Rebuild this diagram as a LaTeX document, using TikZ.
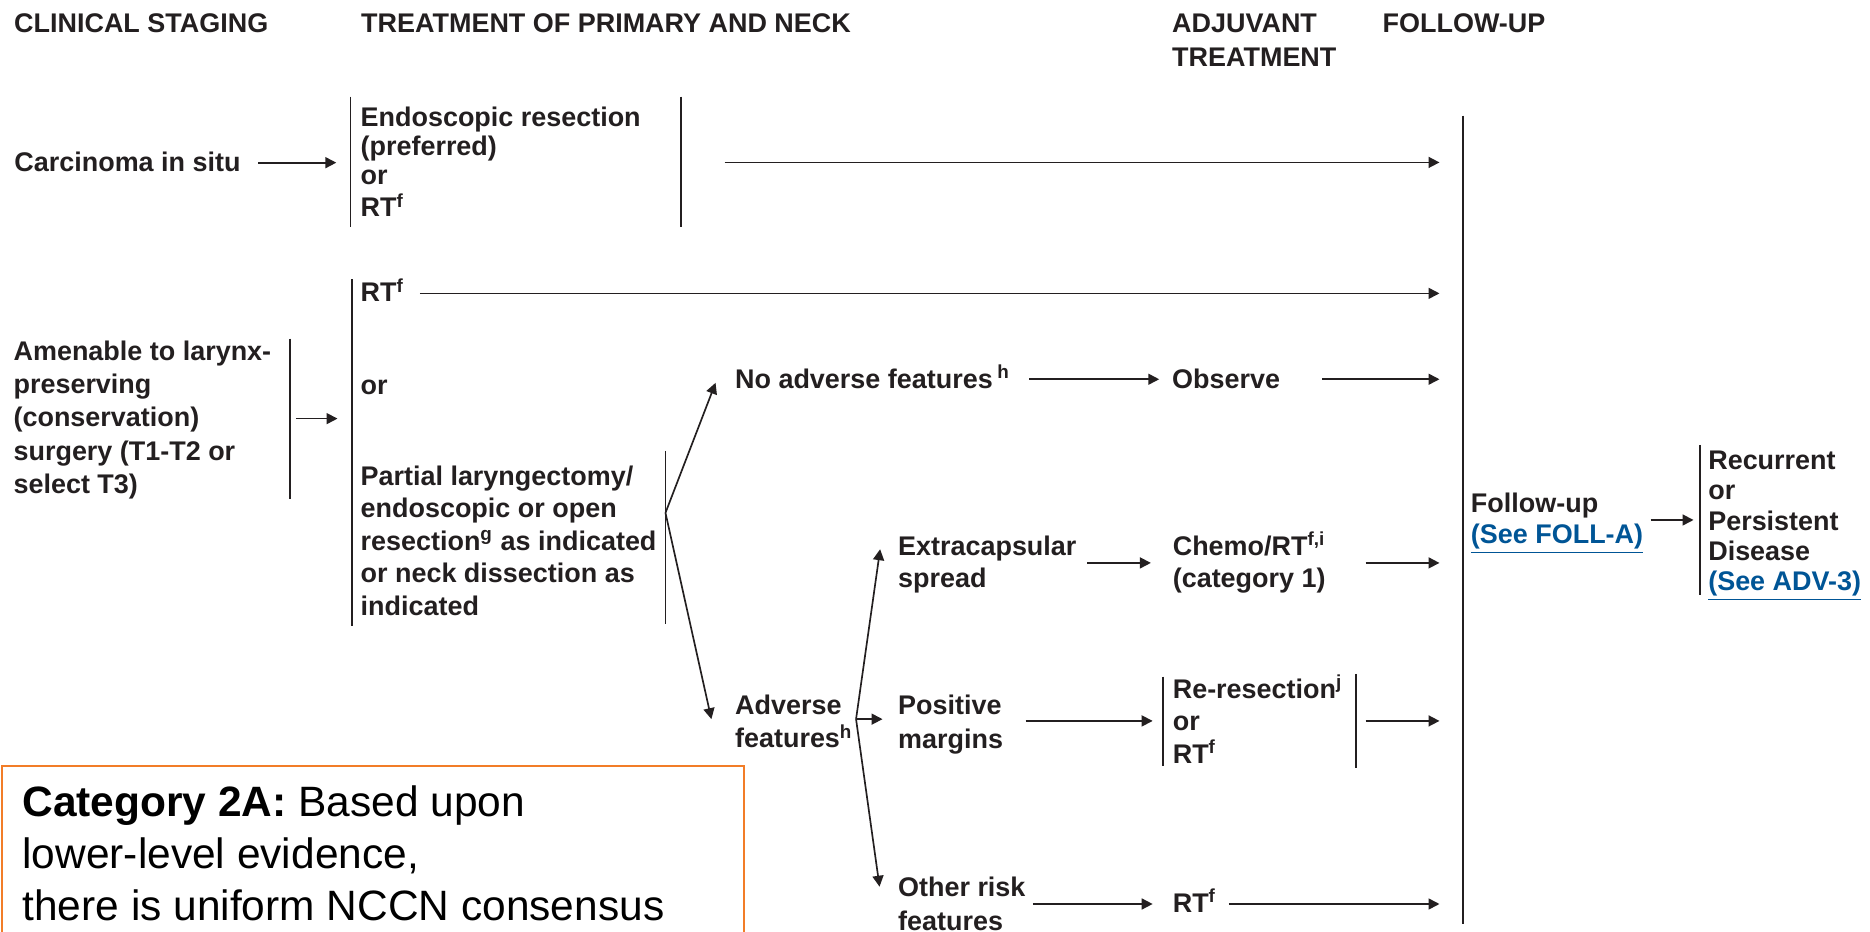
\documentclass[tikz,border=0pt]{standalone}
\usepackage{fontspec}
\setmainfont{Liberation Sans}
\usetikzlibrary{arrows.meta}
\definecolor{ink}{RGB}{35,31,32}
\definecolor{linkblue}{RGB}{0,85,150}
\definecolor{boxorange}{RGB}{242,125,40}
\newcommand{\ML}[2]{\fontsize{11.3pt}{#1}\selectfont\begin{tabular}[t]{@{}l@{}}#2\end{tabular}}
\newcommand{\lnk}[1]{\textcolor{linkblue}{\underline{#1}}}
\begin{document}
\begin{tikzpicture}[x=0.5pt,y=-0.5pt,
  lbl/.style={anchor=base west, inner sep=0pt, text=ink, font=\bfseries\fontsize{11.3pt}{13.6pt}\selectfont},
  arr/.style={draw=ink, line width=0.7pt, -{Triangle[length=4.6pt,width=4.6pt]}},
  brk/.style={draw=ink, line width=0.7pt},
]
\clip (0,0) rectangle (1568,781);
\fill[white] (0,0) rectangle (1568,781);

% headers
\node[lbl] (hstage) at (11.5,27.5) {CLINICAL STAGING};
\node[lbl] (htreat) at (302.5,27.5) {TREATMENT OF PRIMARY AND NECK};
\node[lbl] (hadj) at (982.5,27.5) {\ML{14pt}{ADJUVANT\\TREATMENT}};
\node[lbl] (hfol) at (1159,27.5) {FOLLOW-UP};

% row 1
\node[lbl] (cis) at (11.7,144) {Carcinoma in situ};
\node[lbl] (endo) at (302,106) {\ML{12.25pt}{Endoscopic resection\\(preferred)\\or\\RT\textsuperscript{f}}};

% row 2
\node[lbl] (amen) at (11,302) {\ML{14pt}{Amenable to larynx-\\preserving\\(conservation)\\surgery (T1-T2 or\\select T3)}};
\node[lbl] (rt2) at (302,253) {RT\textsuperscript{f}};
\node[lbl] (or2) at (302,330.5) {or};
\node[lbl] (part) at (302,406.7) {\ML{13.65pt}{Partial laryngectomy/\\endoscopic or open\\resection\textsuperscript{g} as indicated\\or neck dissection as\\indicated}};
\node[lbl] (noadv) at (616,325.6) {No adverse features\,\textsuperscript{h}};
\node[lbl] (obs) at (982.5,325.6) {Observe};
\node[lbl] (adv) at (616,599.5) {\ML{13.75pt}{Adverse\\features\textsuperscript{h}}};
\node[lbl] (ext) at (752.7,465.4) {\ML{13.75pt}{Extracapsular\\spread}};
\node[lbl] (chemo) at (983,465.4) {\ML{13.75pt}{Chemo/RT\textsuperscript{f,i}\\(category 1)}};
\node[lbl] (pos) at (752.7,599) {\ML{14.25pt}{Positive\\margins}};
\node[lbl] (reres) at (983,585.5) {\ML{13.5pt}{Re-resection\textsuperscript{j}\\or\\RT\textsuperscript{f}}};
\node[lbl] (oth) at (752.7,752) {\ML{14.25pt}{Other risk\\features}};
\node[lbl] (rt3) at (983,765) {RT\textsuperscript{f}};
\node[lbl] (fol) at (1233,430) {\ML{12.75pt}{Follow-up\\\lnk{(See FOLL-A)}}};
\node[lbl] (rec) at (1432,393.5) {\ML{12.75pt}{Recurrent\\or\\Persistent\\Disease\\\lnk{(See ADV-3)}}};

% category box
\draw[boxorange, line width=0.8pt] (1.5,642) rectangle (623.5,820);
\node[anchor=base west, inner sep=0pt, text=black] (cat) at (18.5,685) {\fontsize{17.8pt}{21.75pt}\selectfont\begin{tabular}[t]{@{}l@{}}\textbf{Category 2A:} Based upon\\lower-level evidence,\\there is uniform NCCN consensus\end{tabular}};

% brackets
\draw[brk] (294,81) -- (294,190);
\draw[brk] (571,81) -- (571,190);
\draw[brk] (295,234) -- (295,525);
\draw[brk] (558,378) -- (558,523);
\draw[brk] (243,284) -- (243,418);
\draw[brk] (975,567.4) -- (975,642);
\draw[brk] (1137,565) -- (1137,644);
\draw[brk, line width=0.8pt] (1227,97) -- (1227,775);
\draw[brk] (1425.5,373) -- (1425.5,499);

% connector end points
\coordinate (a1s) at (216.6,136.4); \coordinate (a1e) at (282,136.4);
\coordinate (a2s) at (607.5,136.2); \coordinate (a2e) at (1207,136.2);
\coordinate (a3s) at (352,246);     \coordinate (a3e) at (1207,246);
\coordinate (a4s) at (248,351);     \coordinate (a4e) at (283,351);
\coordinate (fork1) at (558,430);
\coordinate (a5e) at (600,321);
\coordinate (a6e) at (596.5,603);
\coordinate (a7s) at (863,318);     \coordinate (a7e) at (972,318);
\coordinate (a8s) at (1108.5,318);  \coordinate (a8e) at (1207,318);
\coordinate (fork2) at (717.8,603);
\coordinate (a9e) at (738,460.5);
\coordinate (a10e) at (740,603);
\coordinate (a11e) at (737.5,743.5);
\coordinate (a12s) at (911.5,472);  \coordinate (a12e) at (965,472);
\coordinate (a13s) at (1145,472);   \coordinate (a13e) at (1207,472);
\coordinate (a14s) at (860,604.5);  \coordinate (a14e) at (966.5,604.5);
\coordinate (a15s) at (1145,604.5); \coordinate (a15e) at (1207,604.5);
\coordinate (a16s) at (866,758);    \coordinate (a16e) at (966.5,758);
\coordinate (a17s) at (1030.5,758); \coordinate (a17e) at (1207,758);
\coordinate (a18s) at (1384,436);   \coordinate (a18e) at (1420,436);

% connectors
\draw[arr] (a1s) -- (a1e);
\draw[arr] (a2s) -- (a2e);
\draw[arr] (a3s) -- (a3e);
\draw[arr] (a4s) -- (a4e);
\draw[arr] (fork1) -- (a5e);
\draw[arr] (fork1) -- (a6e);
\draw[arr] (a7s) -- (a7e);
\draw[arr] (a8s) -- (a8e);
\draw[arr] (fork2) -- (a9e);
\draw[arr] (fork2) -- (a10e);
\draw[arr] (fork2) -- (a11e);
\draw[arr] (a12s) -- (a12e);
\draw[arr] (a13s) -- (a13e);
\draw[arr] (a14s) -- (a14e);
\draw[arr] (a15s) -- (a15e);
\draw[arr] (a16s) -- (a16e);
\draw[arr] (a17s) -- (a17e);
\draw[arr] (a18s) -- (a18e);
\end{tikzpicture}
\end{document}
